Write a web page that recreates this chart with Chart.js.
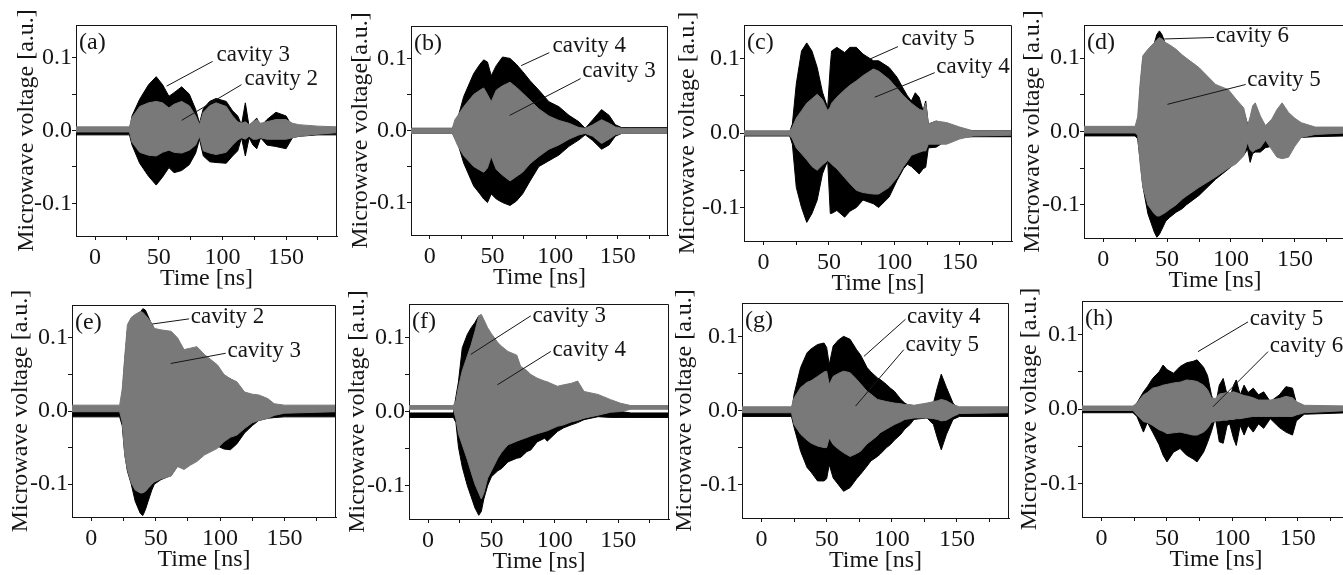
<!DOCTYPE html>
<html>
<head>
<meta charset="utf-8">
<title>Microwave voltage of cavities</title>
<script src="https://cdn.jsdelivr.net/npm/chart.js@4.4.1/dist/chart.umd.min.js"></script>
<style>
  html, body { margin: 0; padding: 0; background: #fff; }
  body { width: 1343px; height: 575px; overflow: hidden; position: relative; }
  canvas { position: absolute; }
</style>
</head>
<body>
<script>
// Envelopes: time [ns], upper / lower edge of each trace [a.u.]
// black = first cavity named in the panel, gray = second one (drawn on top)

// (a) cavity 3 (black), cavity 2 (gray)
const timeA = [-15, 27, 29, 35, 42, 48, 53, 58, 62, 68, 74, 79, 82, 85, 90, 95, 103, 108, 112, 115, 118, 121, 124, 127, 130, 135, 142, 150, 155, 160, 175, 190];
const blackHiA = [0.0, 0.0, 0.02, 0.043, 0.063, 0.074, 0.063, 0.047, 0.052, 0.06, 0.05, 0.029, 0.01, 0.03, 0.04, 0.044, 0.04, 0.027, 0.02, 0.008, 0.038, 0.005, 0.012, 0.017, 0.005, 0.015, 0.025, 0.02, 0.005, 0.002, 0.0, 0.0];
const blackLoA = [-0.006, -0.006, -0.02, -0.045, -0.063, -0.075, -0.064, -0.051, -0.058, -0.055, -0.047, -0.031, -0.012, -0.035, -0.043, -0.044, -0.045, -0.035, -0.028, -0.01, -0.035, -0.01, -0.02, -0.025, -0.01, -0.02, -0.022, -0.025, -0.01, -0.008, -0.006, -0.006];
const grayHiA = [0.005, 0.005, 0.018, 0.033, 0.038, 0.04, 0.038, 0.031, 0.036, 0.04, 0.034, 0.02, 0.008, 0.025, 0.034, 0.038, 0.033, 0.02, 0.012, 0.01, 0.012, 0.008, 0.012, 0.015, 0.01, 0.012, 0.015, 0.015, 0.01, 0.008, 0.006, 0.005];
const grayLoA = [-0.002, -0.002, -0.016, -0.03, -0.034, -0.035, -0.03, -0.027, -0.03, -0.031, -0.027, -0.02, -0.008, -0.028, -0.031, -0.033, -0.03, -0.02, -0.013, -0.01, -0.012, -0.008, -0.012, -0.012, -0.01, -0.012, -0.012, -0.012, -0.01, -0.008, -0.005, -0.003];

// (b) cavity 4 (black), cavity 3 (gray)
const timeB = [-15, 18, 20, 22, 27, 35, 40, 43, 46, 49, 53, 58, 64, 69, 74, 80, 87, 95, 103, 111, 119, 124, 130, 137, 143, 148, 153, 160, 190];
const blackHiB = [0.003, 0.003, 0.01, 0.015, 0.047, 0.079, 0.092, 0.098, 0.095, 0.076, 0.09, 0.102, 0.1, 0.092, 0.082, 0.069, 0.056, 0.04, 0.033, 0.021, 0.012, 0.003, 0.015, 0.029, 0.021, 0.008, 0.004, 0.004, 0.004];
const blackLoB = [-0.004, -0.004, -0.01, -0.016, -0.045, -0.077, -0.088, -0.095, -0.1, -0.088, -0.095, -0.1, -0.104, -0.098, -0.088, -0.07, -0.05, -0.042, -0.034, -0.022, -0.013, -0.006, -0.014, -0.026, -0.02, -0.008, -0.004, -0.004, -0.004];
const grayHiB = [0.003, 0.003, 0.015, 0.02, 0.033, 0.05, 0.056, 0.059, 0.05, 0.04, 0.056, 0.062, 0.067, 0.06, 0.052, 0.042, 0.03, 0.02, 0.014, 0.01, 0.004, 0.003, 0.008, 0.015, 0.01, 0.005, 0.003, 0.003, 0.003];
const grayLoB = [-0.004, -0.004, -0.012, -0.02, -0.035, -0.05, -0.055, -0.058, -0.052, -0.036, -0.054, -0.062, -0.07, -0.064, -0.058, -0.046, -0.036, -0.026, -0.02, -0.012, -0.006, -0.004, -0.008, -0.018, -0.012, -0.006, -0.004, -0.004, -0.004];

// (c) cavity 5 (black), cavity 4 (gray)
const timeC = [-15, 20, 22, 25, 29, 33, 37, 41, 45, 49, 51, 52, 56, 62, 66, 71, 76, 84, 88, 96, 102, 107, 110, 113, 116, 119, 122, 124, 126, 132, 140, 150, 160, 190];
const blackHiC = [0.002, 0.002, 0.012, 0.066, 0.11, 0.121, 0.11, 0.088, 0.055, 0.034, 0.09, 0.11, 0.115, 0.108, 0.115, 0.115, 0.106, 0.097, 0.097, 0.088, 0.075, 0.059, 0.05, 0.043, 0.054, 0.048, 0.03, 0.043, 0.012, 0.016, 0.01, 0.005, 0.003, 0.003];
const blackLoC = [-0.004, -0.004, -0.015, -0.073, -0.1, -0.12, -0.108, -0.09, -0.055, -0.037, -0.108, -0.108, -0.104, -0.113, -0.105, -0.1, -0.09, -0.095, -0.1, -0.086, -0.064, -0.048, -0.042, -0.045, -0.05, -0.055, -0.048, -0.046, -0.02, -0.019, -0.01, -0.006, -0.005, -0.005];
const grayHiC = [0.003, 0.003, 0.008, 0.02, 0.03, 0.04, 0.046, 0.052, 0.045, 0.03, 0.035, 0.04, 0.048, 0.058, 0.064, 0.07, 0.077, 0.086, 0.083, 0.072, 0.06, 0.05, 0.045, 0.04, 0.036, 0.032, 0.03, 0.04, 0.012, 0.016, 0.014, 0.008, 0.003, 0.003];
const grayLoC = [-0.003, -0.003, -0.008, -0.02, -0.028, -0.036, -0.045, -0.05, -0.043, -0.037, -0.04, -0.042, -0.048, -0.06, -0.068, -0.077, -0.08, -0.082, -0.082, -0.073, -0.06, -0.045, -0.038, -0.03, -0.028, -0.026, -0.024, -0.024, -0.015, -0.015, -0.015, -0.008, -0.004, -0.003];

// (d) cavity 6 (black), cavity 5 (gray)
const timeD = [-15, 25, 27, 29, 31, 35, 40, 42, 44, 46, 49, 52, 57, 62, 65, 75, 88, 98, 104, 110, 113, 115, 117, 119, 123, 127, 132, 136, 140, 145, 150, 155, 166, 190];
const blackHiD = [-0.001, -0.001, 0.003, 0.06, 0.098, 0.108, 0.12, 0.132, 0.137, 0.132, 0.118, 0.112, 0.108, 0.1, 0.097, 0.083, 0.06, 0.053, 0.04, 0.028, 0.01, 0.01, 0.03, 0.035, 0.018, 0.006, 0.012, 0.025, 0.035, 0.022, 0.012, 0.006, 0.002, -0.001];
const blackLoD = [-0.006, -0.006, -0.01, -0.04, -0.074, -0.112, -0.137, -0.144, -0.14, -0.133, -0.122, -0.117, -0.11, -0.105, -0.1, -0.087, -0.065, -0.051, -0.042, -0.032, -0.024, -0.042, -0.03, -0.028, -0.028, -0.022, -0.02, -0.018, -0.016, -0.012, -0.01, -0.008, -0.007, -0.006];
const grayHiD = [0.007, 0.007, 0.02, 0.067, 0.103, 0.112, 0.121, 0.125, 0.128, 0.126, 0.121, 0.118, 0.112, 0.104, 0.1, 0.087, 0.064, 0.057, 0.044, 0.032, 0.008, 0.02, 0.035, 0.039, 0.021, 0.008, 0.017, 0.03, 0.039, 0.026, 0.018, 0.012, 0.006, 0.006];
const grayLoD = [-0.002, -0.002, -0.005, -0.045, -0.075, -0.1, -0.112, -0.115, -0.115, -0.113, -0.11, -0.106, -0.1, -0.092, -0.088, -0.076, -0.062, -0.05, -0.044, -0.033, -0.015, -0.025, -0.028, -0.025, -0.022, -0.012, -0.025, -0.035, -0.037, -0.035, -0.02, -0.008, -0.004, -0.002];

// (e) cavity 2 (black), cavity 3 (gray)
const timeE = [-15, 22, 24, 26, 28, 31, 34, 38, 40, 42, 44, 47, 49, 54, 62, 67, 72, 77, 82, 88, 98, 103, 108, 113, 119, 125, 130, 137, 142, 150, 190];
const blackHiE = [-0.001, -0.001, 0.02, 0.07, 0.11, 0.125, 0.13, 0.135, 0.14, 0.138, 0.13, 0.118, 0.11, 0.108, 0.105, 0.096, 0.08, 0.083, 0.085, 0.073, 0.06, 0.048, 0.044, 0.038, 0.024, 0.02, 0.01, 0.004, 0.0, -0.001, -0.001];
const blackLoE = [-0.008, -0.008, -0.02, -0.06, -0.082, -0.1, -0.123, -0.14, -0.143, -0.135, -0.124, -0.108, -0.1, -0.094, -0.088, -0.075, -0.078, -0.072, -0.066, -0.058, -0.048, -0.052, -0.053, -0.045, -0.03, -0.02, -0.013, -0.01, -0.009, -0.008, -0.008];
const grayHiE = [0.008, 0.008, 0.03, 0.075, 0.118, 0.128, 0.132, 0.136, 0.135, 0.131, 0.127, 0.12, 0.113, 0.111, 0.109, 0.1, 0.084, 0.086, 0.088, 0.077, 0.063, 0.05, 0.044, 0.04, 0.026, 0.023, 0.022, 0.017, 0.01, 0.008, 0.008];
const grayLoE = [-0.001, -0.001, -0.015, -0.06, -0.08, -0.098, -0.108, -0.112, -0.112, -0.11, -0.106, -0.1, -0.097, -0.093, -0.089, -0.076, -0.08, -0.074, -0.069, -0.06, -0.051, -0.042, -0.036, -0.033, -0.024, -0.016, -0.013, -0.01, -0.006, -0.003, -0.001];

// (f) cavity 3 (black), cavity 4 (gray)
const timeF = [-15, 20, 22, 24, 27, 31, 34, 37, 40, 42, 44, 47, 50, 55, 58, 63, 70, 73, 78, 81, 86, 92, 94, 102, 107, 113, 118, 123, 134, 144, 152, 160, 190];
const blackHiF = [-0.002, -0.002, 0.02, 0.04, 0.086, 0.104, 0.113, 0.12, 0.129, 0.128, 0.12, 0.11, 0.1, 0.09, 0.085, 0.078, 0.072, 0.058, 0.052, 0.047, 0.04, 0.038, 0.037, 0.031, 0.033, 0.035, 0.038, 0.024, 0.02, 0.01, 0.0, -0.002, -0.002];
const blackLoF = [-0.008, -0.008, -0.015, -0.048, -0.075, -0.1, -0.115, -0.13, -0.14, -0.135, -0.118, -0.1, -0.088, -0.08, -0.077, -0.068, -0.063, -0.062, -0.054, -0.052, -0.041, -0.036, -0.04, -0.027, -0.022, -0.018, -0.015, -0.011, -0.007, -0.008, -0.008, -0.008, -0.008];
const grayHiF = [0.008, 0.008, 0.015, 0.033, 0.055, 0.075, 0.09, 0.108, 0.129, 0.131, 0.124, 0.113, 0.105, 0.093, 0.088, 0.081, 0.076, 0.061, 0.055, 0.05, 0.045, 0.041, 0.04, 0.034, 0.036, 0.038, 0.041, 0.027, 0.023, 0.016, 0.011, 0.008, 0.008];
const grayLoF = [0.003, 0.003, -0.01, -0.03, -0.045, -0.065, -0.082, -0.098, -0.11, -0.118, -0.11, -0.09, -0.08, -0.063, -0.055, -0.045, -0.04, -0.038, -0.035, -0.033, -0.03, -0.027, -0.026, -0.02, -0.018, -0.014, -0.012, -0.009, -0.005, -0.001, 0.0, 0.003, 0.003];

// (g) cavity 4 (black), cavity 5 (gray)
const timeG = [-15, 23, 25, 30, 35, 38, 43, 48, 50, 52, 55, 59, 63, 68, 73, 76, 81, 84, 89, 91, 96, 99, 102, 107, 110, 114, 117, 127, 132, 135, 138, 142, 147, 152, 190];
const blackHiG = [-0.002, -0.002, 0.022, 0.058, 0.078, 0.083, 0.089, 0.091, 0.085, 0.062, 0.087, 0.095, 0.1, 0.096, 0.082, 0.075, 0.058, 0.052, 0.044, 0.042, 0.035, 0.03, 0.026, 0.015, 0.01, 0.006, 0.004, 0.006, 0.01, 0.031, 0.049, 0.031, 0.01, 0.0, -0.002];
const blackLoG = [-0.008, -0.008, -0.023, -0.055, -0.077, -0.083, -0.095, -0.095, -0.092, -0.073, -0.091, -0.1, -0.109, -0.104, -0.092, -0.086, -0.075, -0.068, -0.062, -0.059, -0.05, -0.046, -0.04, -0.032, -0.025, -0.019, -0.012, -0.01, -0.019, -0.037, -0.053, -0.032, -0.012, -0.008, -0.008];
const grayHiG = [0.005, 0.005, 0.017, 0.031, 0.038, 0.04, 0.046, 0.052, 0.053, 0.035, 0.046, 0.05, 0.053, 0.051, 0.042, 0.036, 0.026, 0.022, 0.015, 0.014, 0.012, 0.011, 0.01, 0.009, 0.008, 0.008, 0.007, 0.01, 0.012, 0.013, 0.015, 0.013, 0.008, 0.005, 0.005];
const grayLoG = [-0.003, -0.003, -0.019, -0.032, -0.04, -0.044, -0.048, -0.05, -0.05, -0.037, -0.046, -0.052, -0.057, -0.062, -0.058, -0.055, -0.045, -0.041, -0.034, -0.03, -0.025, -0.022, -0.019, -0.015, -0.012, -0.011, -0.01, -0.01, -0.011, -0.012, -0.014, -0.013, -0.008, -0.004, -0.003];

// (h) cavity 5 (black), cavity 6 (gray)
const timeH = [-15, 24, 27, 32, 35, 39, 44, 47, 50, 55, 60, 65, 70, 73, 78, 81, 84, 87, 90, 93, 96, 98, 101, 103, 106, 109, 112, 116, 120, 124, 129, 136, 141, 146, 149, 155, 190];
const blackHiH = [0.002, 0.002, 0.008, 0.023, 0.03, 0.041, 0.05, 0.059, 0.053, 0.048, 0.057, 0.062, 0.064, 0.066, 0.056, 0.045, 0.019, 0.003, 0.032, 0.041, 0.019, 0.015, 0.032, 0.039, 0.019, 0.032, 0.022, 0.028, 0.019, 0.023, 0.01, 0.019, 0.03, 0.028, 0.008, 0.003, 0.002];
const blackLoH = [-0.005, -0.005, -0.01, -0.031, -0.018, -0.031, -0.048, -0.062, -0.071, -0.058, -0.053, -0.062, -0.067, -0.071, -0.058, -0.045, -0.03, -0.012, -0.044, -0.046, -0.022, -0.02, -0.04, -0.049, -0.022, -0.035, -0.022, -0.031, -0.02, -0.026, -0.013, -0.025, -0.031, -0.035, -0.016, -0.007, -0.005];
const grayHiH = [0.004, 0.004, 0.008, 0.019, 0.022, 0.028, 0.03, 0.032, 0.033, 0.035, 0.036, 0.039, 0.038, 0.037, 0.032, 0.026, 0.015, 0.014, 0.02, 0.021, 0.022, 0.022, 0.023, 0.022, 0.02, 0.018, 0.017, 0.015, 0.012, 0.012, 0.012, 0.014, 0.017, 0.015, 0.01, 0.005, 0.004];
const grayLoH = [-0.002, -0.002, -0.008, -0.017, -0.018, -0.022, -0.028, -0.03, -0.033, -0.032, -0.031, -0.033, -0.035, -0.035, -0.031, -0.026, -0.018, -0.016, -0.016, -0.015, -0.015, -0.014, -0.014, -0.013, -0.013, -0.012, -0.011, -0.01, -0.01, -0.01, -0.01, -0.01, -0.01, -0.01, -0.008, -0.005, -0.002];

// axis ticks (labels only on the major ones)
const xTicks = [0, 25, 50, 75, 100, 125, 150, 175];
const yTicks = [-0.1, -0.05, 0, 0.05, 0.1];

const FONT = "'Liberation Serif', 'Times New Roman', serif";
const INK = '#151515';
const GRAY = '#797979';
const Y_TITLE = 'Microwave voltage [a.u.]';

// panel boxes in page pixels: plot left, top, right, bottom + gap of the y title
const panels = [
  { tag: '(a)', box: [76, 25, 337, 236], titleGap: 12, t: timeA, bHi: blackHiA, bLo: blackLoA, gHi: grayHiA, gLo: grayLoA,
    notes: [['cavity 3', 95.4, 0.102, 92.3, 0.095, 56.2, 0.061], ['cavity 2', 117.4, 0.070, 115, 0.063, 68, 0.014]] },
  { tag: '(b)', box: [411, 26, 668, 235], titleGap: 11, yTitle: 'Microwave voltage[a.u.]', t: timeB, bHi: blackHiB, bLo: blackLoB, gHi: grayHiB, gLo: grayLoB,
    notes: [['cavity 4', 97.9, 0.116, 95.3, 0.108, 72.9, 0.09], ['cavity 3', 121.6, 0.081, 120.3, 0.072, 63.7, 0.021]] },
  { tag: '(c)', box: [744, 25, 1012, 241], titleGap: 5, t: timeC, bHi: blackHiC, bLo: blackLoC, gHi: grayHiC, gLo: grayLoC,
    notes: [['cavity 5', 105.4, 0.125, 102.8, 0.116, 81, 0.099], ['cavity 4', 132.1, 0.087, 130.9, 0.081, 85, 0.048]] },
  { tag: '(d)', box: [1084, 25, 1346, 238], titleGap: 10, t: timeD, bHi: blackHiD, bLo: blackLoD, gHi: grayHiD, gLo: grayLoD,
    notes: [['cavity 6', 88, 0.128, 86.7, 0.128, 47.7, 0.126], ['cavity 5', 112.8, 0.069, 111.5, 0.064, 50.3, 0.037]] },
  { tag: '(e)', box: [72, 305, 336, 517], titleGap: 10, t: timeE, bHi: blackHiE, bLo: blackLoE, gHi: grayHiE, gLo: grayLoE,
    notes: [['cavity 2', 77.2, 0.127, 75.9, 0.126, 47.4, 0.119], ['cavity 3', 105.7, 0.081, 104.4, 0.079, 61.7, 0.065]] },
  { tag: '(f)', box: [409, 304, 669, 519], titleGap: 10, t: timeF, bHi: blackHiF, bLo: blackLoF, gHi: grayHiF, gLo: grayLoF,
    notes: [['cavity 3', 82.4, 0.127, 81, 0.129, 33.7, 0.077], ['cavity 4', 98.2, 0.082, 96.8, 0.081, 54.7, 0.036]] },
  { tag: '(g)', box: [742, 303, 1009, 518], titleGap: 4, t: timeG, bHi: blackHiG, bLo: blackLoG, gHi: grayHiG, gLo: grayLoG,
    notes: [['cavity 4', 111.7, 0.125, 110.5, 0.123, 78.6, 0.073], ['cavity 5', 110.5, 0.087, 109.2, 0.082, 72.2, 0.006]] },
  { tag: '(h)', box: [1082, 301, 1350, 517], titleGap: 9, t: timeH, bHi: blackHiH, bLo: blackLoH, gHi: grayHiH, gLo: grayLoH,
    notes: [['cavity 5', 113.3, 0.119, 112, 0.117, 73.7, 0.077], ['cavity 6', 128.6, 0.083, 127.3, 0.077, 85.2, 0.003]] }
];

const AXIS_W = 76, AXIS_H = 60, PAD_TOP = 25, PAD_RIGHT = 12;

const pts = (t, v) => t.map((x, i) => ({ x, y: v[i] }));

// frame on top/right, panel letter and cavity labels with leader lines
const panelDecor = {
  id: 'panelDecor',
  afterDatasetsDraw(chart, args, opts) {
    const { ctx, chartArea: a, scales: { x, y } } = chart;
    ctx.save();
    ctx.strokeStyle = INK;
    ctx.lineWidth = 1;
    ctx.beginPath();
    ctx.moveTo(a.left, a.top + 0.5);
    ctx.lineTo(a.right - 0.5, a.top + 0.5);
    ctx.lineTo(a.right - 0.5, a.bottom);
    ctx.stroke();

    ctx.fillStyle = INK;
    ctx.font = '24px ' + FONT;
    ctx.textBaseline = 'alphabetic';
    ctx.textAlign = 'left';
    ctx.fillText(opts.tag, a.left + 3, a.top + 24);

    ctx.font = '23px ' + FONT;
    opts.notes.forEach(([text, tx, ty, x1, y1, x2, y2]) => {
      ctx.beginPath();
      ctx.moveTo(x.getPixelForValue(x1), y.getPixelForValue(y1));
      ctx.lineTo(x.getPixelForValue(x2), y.getPixelForValue(y2));
      ctx.stroke();
      ctx.fillText(text, x.getPixelForValue(tx), y.getPixelForValue(ty) + 5);
    });
    ctx.restore();
  }
};

function axisFont() {
  return { family: FONT, size: 24 };
}

panels.forEach(p => {
  const [L, T, R, B] = p.box;
  const canvas = document.createElement('canvas');
  canvas.width = R - L + AXIS_W + PAD_RIGHT;
  canvas.height = B - T + PAD_TOP + AXIS_H;
  canvas.style.left = (L - AXIS_W) + 'px';
  canvas.style.top = (T - PAD_TOP) + 'px';
  document.body.appendChild(canvas);

  const line = (data, color, fill) => ({
    data, borderColor: color, backgroundColor: color, borderWidth: 1,
    pointRadius: 0, tension: 0, fill
  });

  // Chart.js paints the first dataset last, so the gray trace goes first to sit on top
  new Chart(canvas.getContext('2d'), {
    type: 'line',
    data: {
      datasets: [
        line(pts(p.t, p.gHi), GRAY, false),
        line(pts(p.t, p.gLo), GRAY, '-1'),
        line(pts(p.t, p.bHi), '#000', false),
        line(pts(p.t, p.bLo), '#000', '-1')
      ]
    },
    options: {
      responsive: false,
      devicePixelRatio: 1,
      animation: false,
      layout: { padding: { left: 0, top: PAD_TOP, right: PAD_RIGHT, bottom: 0 } },
      plugins: {
        legend: { display: false },
        tooltip: { enabled: false },
        panelDecor: { tag: p.tag, notes: p.notes }
      },
      scales: {
        x: {
          type: 'linear', min: -15, max: 190,
          afterBuildTicks: s => { s.ticks = xTicks.map(value => ({ value })); },
          afterFit: s => { s.height = AXIS_H; },
          ticks: {
            autoSkip: false, maxRotation: 0, padding: 3, color: INK, font: axisFont(),
            callback: v => (v % 50 === 0 ? String(v) : '')
          },
          grid: { drawOnChartArea: false, tickLength: 4, color: INK },
          border: { color: INK, width: 1 },
          title: { display: true, text: 'Time [ns]', color: INK, font: axisFont(), padding: { top: 0, bottom: 3 } }
        },
        y: {
          type: 'linear', min: -0.145, max: 0.145,
          afterBuildTicks: s => { s.ticks = yTicks.map(value => ({ value })); },
          afterFit: s => { s.width = AXIS_W; },
          ticks: {
            autoSkip: false, padding: 0, color: INK, font: axisFont(),
            callback: v => (Math.abs(v * 10 - Math.round(v * 10)) < 1e-9 ? v.toFixed(1) : '')
          },
          grid: { drawOnChartArea: false, tickLength: 4, color: INK },
          border: { color: INK, width: 1 },
          title: { display: true, text: p.yTitle || Y_TITLE, color: INK, font: axisFont(), padding: { top: p.titleGap, bottom: 0 } }
        }
      }
    },
    plugins: [panelDecor]
  });
});
</script>
</body>
</html>
